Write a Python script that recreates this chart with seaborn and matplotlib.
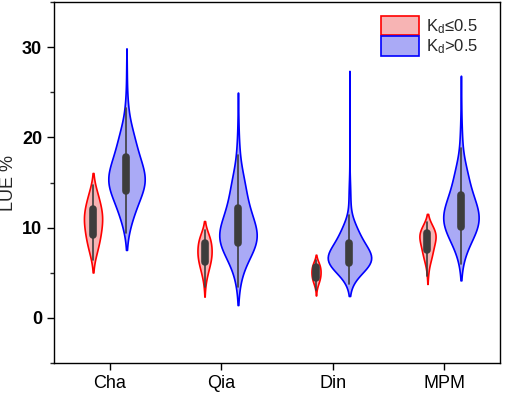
import numpy as np
import pandas as pd
import matplotlib
matplotlib.use("Agg")
import matplotlib.pyplot as plt
from matplotlib.patches import Patch
from matplotlib.collections import PolyCollection
from matplotlib.ticker import MultipleLocator
import seaborn as sns

sns.set_style("ticks")
plt.rcParams["font.family"] = ["Liberation Sans", "DejaVu Sans"]
plt.rcParams["mathtext.default"] = "regular"

# sites and the two Kd classes
sites = ["Cha", "Qia", "Din", "MPM"]
groups = ["low", "high"]
group_labels = [r"K$_{d}$≤0.5", r"K$_{d}$>0.5"]

# quantiles at these probabilities
probs = [0, 0.05, 0.25, 0.5, 0.75, 0.95, 0.99, 1]
cha_low = [6.4, 7.5, 9.2, 10.8, 12.1, 13.8, 14.5, 14.7]
cha_high = [9.4, 11.4, 14.1, 15.6, 17.8, 21.0, 24.0, 28.0]
qia_low = [3.4, 4.8, 6.2, 7.2, 8.3, 9.2, 9.6, 9.7]
qia_high = [3.4, 6.1, 8.3, 9.6, 12.2, 16.0, 19.5, 23.0]
din_low = [3.1, 3.8, 4.4, 5.0, 5.6, 6.1, 6.3, 6.4]
din_high = [3.8, 5.1, 6.1, 6.9, 8.3, 10.5, 15.0, 26.0]
mpm_low = [4.7, 6.2, 7.5, 8.7, 9.4, 10.2, 10.5, 10.6]
mpm_high = [6.0, 8.1, 10.1, 11.5, 13.6, 17.0, 21.0, 25.0]

# number of observations per violin
n_low = [180, 140, 90, 160]
n_high = [360, 370, 430, 350]

quant = {
    ("Cha", "low"): cha_low, ("Cha", "high"): cha_high,
    ("Qia", "low"): qia_low, ("Qia", "high"): qia_high,
    ("Din", "low"): din_low, ("Din", "high"): din_high,
    ("MPM", "low"): mpm_low, ("MPM", "high"): mpm_high,
}

rows = []
for i, s in enumerate(sites):
    for g, n in zip(groups, [n_low[i], n_high[i]]):
        vals = np.interp(np.linspace(0, 1, n), probs, quant[(s, g)])
        rows += [(s, g, v) for v in vals]
df = pd.DataFrame(rows, columns=["site", "kd", "lue"])

fill_low = "#F7B4B4"
fill_high = "#AAAAF6"
edge_low = "#FF0000"
edge_high = "#0000FF"

fig = plt.figure(figsize=(5.05, 3.96), dpi=100)
ax = fig.add_axes([0.107, 0.083, 0.883, 0.912])

sns.violinplot(data=df, x="site", y="lue", hue="kd", order=sites, hue_order=groups,
               palette=[fill_low, fill_high], saturation=1, width=0.6, gap=-0.3,
               density_norm="count", common_norm=True, bw_adjust=1.6, cut=1.2,
               linewidth=1.2, linecolor="#3d3d3d",
               inner="box", inner_kws=dict(box_width=5.5, whis_width=1.2, marker=""),
               legend=False, ax=ax)

# violin outlines in red / blue
for coll in ax.collections:
    if isinstance(coll, PolyCollection):
        fc = coll.get_facecolor()[0]
        if fc[0] > fc[2]:
            coll.set_edgecolor(edge_low)
        else:
            coll.set_edgecolor(edge_high)
        coll.set_linewidth(1.2)

ax.set_xlim(-0.5, 3.5)
ax.set_ylim(-5, 35)
ax.set_xlabel("")
ax.set_ylabel("LUE %", fontsize=13)
ax.yaxis.set_major_locator(MultipleLocator(10))
ax.yaxis.set_minor_locator(MultipleLocator(5))
ax.tick_params(axis="both", which="major", direction="out", length=5, width=1, labelsize=13, colors="black")
ax.tick_params(axis="y", which="minor", direction="out", length=3, width=1)
for lab in ax.get_yticklabels():
    lab.set_fontweight("bold")
for sp in ax.spines.values():
    sp.set_visible(True)
    sp.set_color("black")
    sp.set_linewidth(1)

handles = [Patch(facecolor=fill_low, edgecolor=edge_low, linewidth=1.2),
           Patch(facecolor=fill_high, edgecolor=edge_high, linewidth=1.2)]
ax.legend(handles, group_labels, loc="upper right", frameon=False, fontsize=12,
          handlelength=2.3, handleheight=1.4, handletextpad=0.4, labelspacing=0.05,
          borderaxespad=0, bbox_to_anchor=(1 - 15 / 446, 1 - 7 / 361))

fig.savefig("out.png", dpi=100)
